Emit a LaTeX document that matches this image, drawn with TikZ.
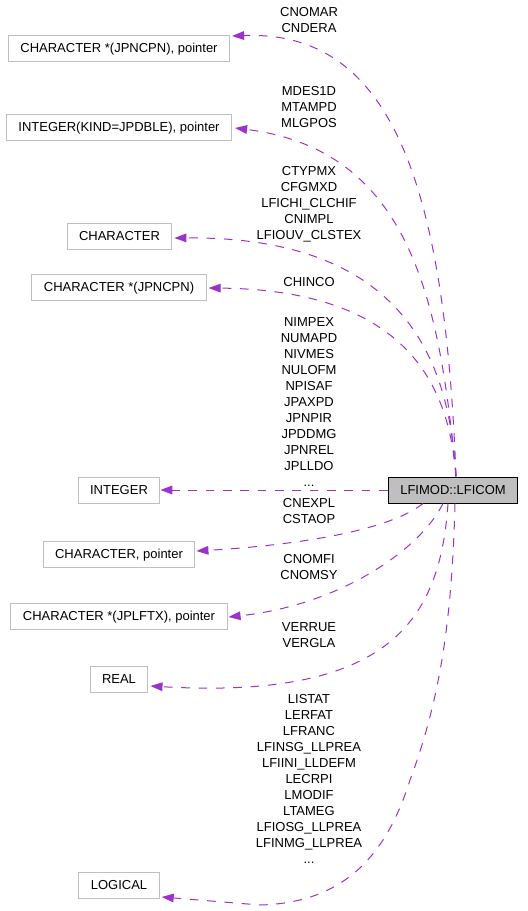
\documentclass[tikz,border=0pt]{standalone}
\usepackage{fontspec}
\setmainfont{Liberation Sans}
\usetikzlibrary{arrows.meta,calc}

\definecolor{edgepurple}{HTML}{9A32CD}
\definecolor{boxgray}{HTML}{BFBFBF}

\tikzset{
  classbox/.style={draw=boxgray, line width=0.75pt, fill=white, inner xsep=9pt, inner ysep=0pt,
    minimum height=19.5pt, text height=7pt, text depth=0pt, font=\fontsize{9.75pt}{12pt}\selectfont},
  mainbox/.style={classbox, draw=black, fill=boxgray},
  usage/.style={draw=edgepurple, line width=0.75pt, dash pattern=on 6.5pt off 6.5pt,
    -{Triangle[length=9pt,width=6.5pt,fill=edgepurple]}},
  varlabel/.style={inner sep=0pt, align=center, font=\fontsize{9.75pt}{12pt}\selectfont}
}

\begin{document}
\begin{tikzpicture}[x=0.75pt, y=-0.75pt]
  \useasboundingbox (0,0) rectangle (528,911);

  % classes
  \node[classbox] (charJpncpnPtr) at (119,48) {CHARACTER *(JPNCPN), pointer};
  \node[classbox] (intKindPtr) at (119,127) {INTEGER(KIND=JPDBLE), pointer};
  \node[classbox] (character) at (119.5,236) {CHARACTER};
  \node[classbox] (charJpncpn) at (119,287) {CHARACTER *(JPNCPN)};
  \node[classbox] (integer) at (119,490) {INTEGER};
  \node[mainbox] (lficom) at (453,490) {LFIMOD::LFICOM};
  \node[classbox] (charPtr) at (119,554) {CHARACTER, pointer};
  \node[classbox] (charJplftxPtr) at (119,616) {CHARACTER *(JPLFTX), pointer};
  \node[classbox] (real) at (119,679) {REAL};
  \node[classbox] (logical) at (119,885) {LOGICAL};

  % member names
  \node[varlabel] (lCnomar) at (309,20) {CNOMAR\\CNDERA};
  \node[varlabel] (lMdes) at (309,107) {MDES1D\\MTAMPD\\MLGPOS};
  \node[varlabel] (lCtyp) at (309,204) {CTYPMX\\CFGMXD\\LFICHI\_CLCHIF\\CNIMPL\\LFIOUV\_CLSTEX};
  \node[varlabel] (lChinco) at (309,282) {CHINCO};
  \node[varlabel] (lNimpex) at (309,402) {NIMPEX\\NUMAPD\\NIVMES\\NULOFM\\NPISAF\\JPAXPD\\JPNPIR\\JPDDMG\\JPNREL\\JPLLDO\\...};
  \node[varlabel] (lCnexpl) at (309,511) {CNEXPL\\CSTAOP};
  \node[varlabel] (lCnomfi) at (309,567.5) {CNOMFI\\CNOMSY};
  \node[varlabel] (lVerrue) at (309,635) {VERRUE\\VERGLA};
  \node[varlabel] (lListat) at (309,779) {LISTAT\\LERFAT\\LFRANC\\LFINSG\_LLPREA\\LFIINI\_LLDEFM\\LECRPI\\LMODIF\\LTAMEG\\LFIOSG\_LLPREA\\LFINMG\_LLPREA\\...};

  % usage relations
  \draw[usage] ($(lficom.north)+(3,0)$) .. controls (445,180) and (390,30) .. ($(charJpncpnPtr.east)+(2,-12)$);
  \draw[usage] ($(lficom.north)+(3,0)$) .. controls (440,300) and (410,150) .. ($(intKindPtr.east)+(3,1)$);
  \draw[usage] ($(lficom.north)+(3,0)$) .. controls (450,380) and (420,236) .. ($(character.east)+(2,2)$);
  \draw[usage] ($(lficom.north)+(3,0)$) .. controls (450,400) and (420,290) .. ($(charJpncpn.east)+(2,1)$);
  \draw[usage] (lficom.west) -- (integer.east);
  \draw[usage] ($(lficom.south)+(-30,0)$) .. controls (390,530) and (300,545) .. ($(charPtr.east)+(1,-3)$);
  \draw[usage] ($(lficom.south)+(-10,0)$) .. controls (420,550) and (340,605) .. ($(charJplftxPtr.east)+(1,1)$);
  \draw[usage] ($(lficom.south)+(-5,0)$) .. controls (440,620) and (390,700) .. ($(real.east)+(2,7)$);
  \draw[usage] ($(lficom.south)+(2,0)$) .. controls (452,620) and (440,700) .. (410,780)
    .. controls (385,860) and (340,903) .. (260,905) -- ($(logical.east)+(2,12)$);
\end{tikzpicture}
\end{document}
